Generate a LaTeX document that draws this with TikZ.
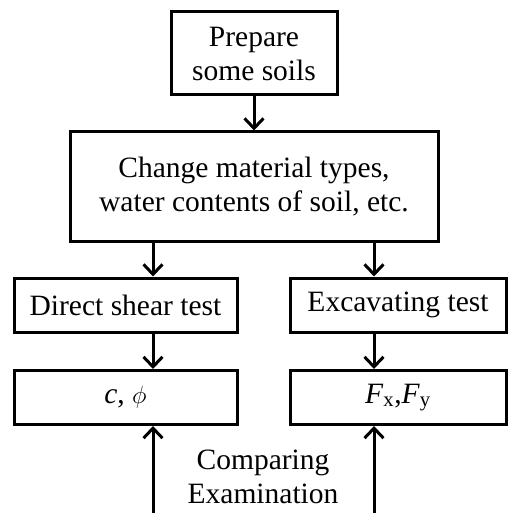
\documentclass[tikz,border=0pt]{standalone}
\usepackage{fontspec}
\setmainfont{Liberation Serif}
\usetikzlibrary{arrows.meta}
\tikzset{
  stepbox/.style={draw,line width=3pt,align=center,inner sep=0pt,
    font=\fontsize{29.5}{34}\selectfont},
  flow/.style={line width=3pt,-{Straight Barb[length=10pt,width=19pt]}}
}
\begin{document}
\begin{tikzpicture}[x=1pt,y=1pt]
        \useasboundingbox (0,0) rectangle (508,-513);
        \node[stepbox,minimum width=166pt,minimum height=83pt] (prep) at (254,-53.5) {Prepare\\some soils};
        \node[stepbox,minimum width=368pt,minimum height=109pt] (change) at (254,-186.5) {Change material types,\\water contents of soil, etc.};
        \node[stepbox,minimum width=223pt,minimum height=54pt] (shear) at (125.5,-305) {Direct shear test};
        \node[stepbox,minimum width=216pt,minimum height=54pt] (excav) at (398,-305) {Excavating test};
        \node[stepbox,minimum width=223pt,minimum height=54pt] (cphi) at (125.5,-397.5) {\textit{c}, $\phi$};
        \node[stepbox,minimum width=216pt,minimum height=54pt] (force) at (398,-397.5) {\textit{F}\textsubscript{x},\textit{F}\textsubscript{y}};
        \node[align=center,font=\fontsize{29.5}{34}\selectfont] (comp) at (263,-477) {Comparing\\Examination};
        % arrow columns and the open ends at the bottom
        \coordinate (lcol) at (153,0);
        \coordinate (rcol) at (374,0);
        \coordinate (lend) at (153,-513);
        \coordinate (rend) at (374,-513);
        \draw[flow] (prep.south) -- (change.north);
        \draw[flow] (change.south -| lcol) -- (shear.north -| lcol);
        \draw[flow] (change.south -| rcol) -- (excav.north -| rcol);
        \draw[flow] (shear.south -| lcol) -- (cphi.north -| lcol);
        \draw[flow] (excav.south -| rcol) -- (force.north -| rcol);
        \draw[flow] (lend) -- (cphi.south -| lcol);
        \draw[flow] (rend) -- (force.south -| rcol);
\end{tikzpicture}
\end{document}
